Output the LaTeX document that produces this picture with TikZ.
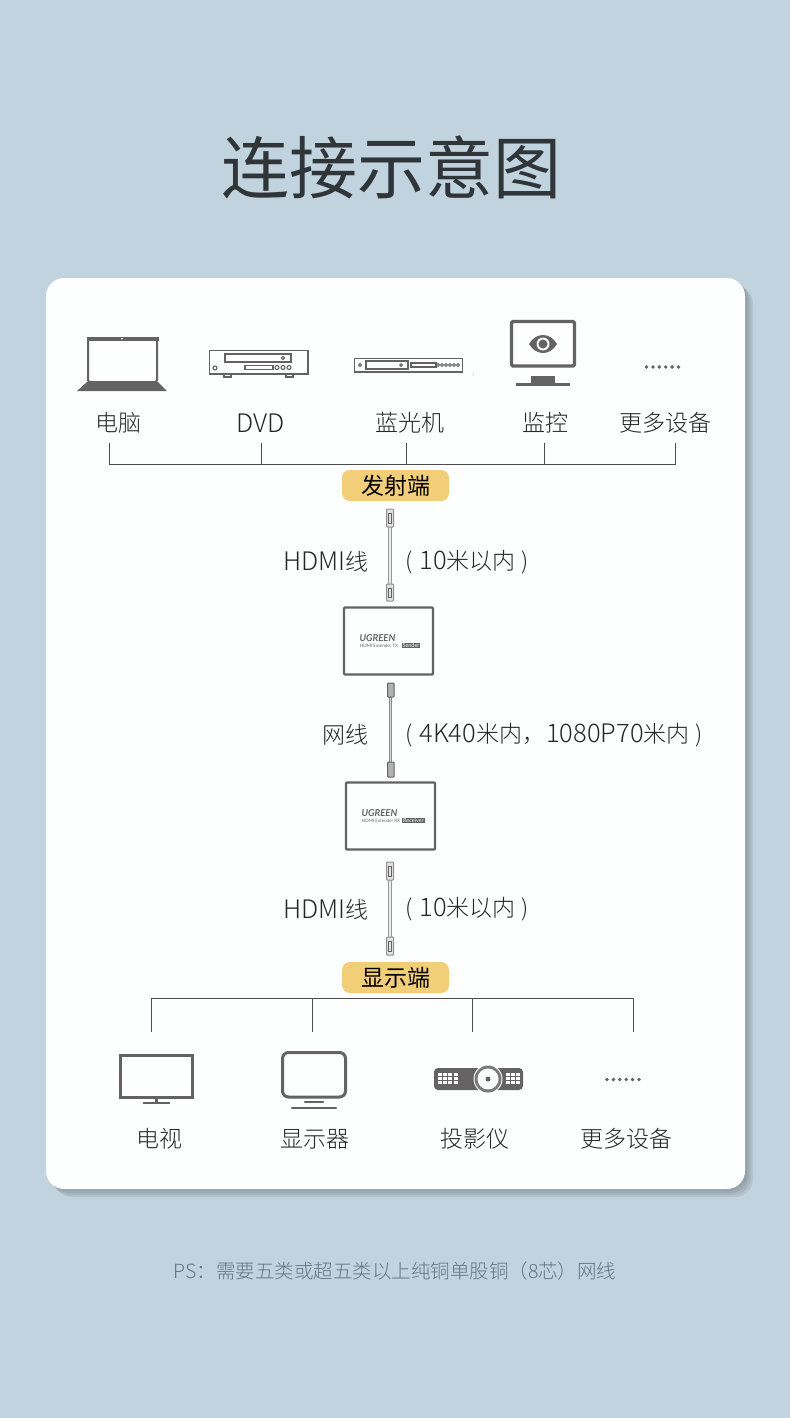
\documentclass[tikz,border=0pt]{standalone}
\usepackage{fontspec}
\setmainfont{Noto Sans CJK SC Light}
\newfontfamily\heavyfont{Noto Sans CJK SC}
\newfontfamily\brandfont{Lato}
\definecolor{bgblue}{HTML}{C1D3DF}
\definecolor{cardwhite}{HTML}{FDFEFE}
\definecolor{icongray}{HTML}{646263}
\definecolor{tagyellow}{HTML}{F2CE78}
\definecolor{titleink}{HTML}{2F3538}
\definecolor{noteink}{HTML}{66747E}
\tikzset{
  lbl/.style={text=black!85,font=\fontsize{23}{23}\selectfont,inner sep=0pt},
  tag/.style={fill=tagyellow,rounded corners=8pt,minimum width=107pt,minimum height=31pt,inner sep=0pt,text=black,font=\heavyfont\fontsize{23}{23}\selectfont},
  wire/.style={draw=black!70,line width=0.8pt},
  icon/.style={draw=icongray,line width=1.6pt},
  boxdev/.style={draw=icongray,line width=2.2pt,fill=cardwhite,rounded corners=1pt},
  plug/.style={draw=icongray!70,line width=1pt,fill=black!12,rounded corners=0.8pt},
}
% latin runs of the labels are set a little wider
\newcommand{\lat}[1]{{\fontsize{25.5}{25.5}\selectfont #1}}
% one plug of a cable, centred on x=390
\newcommand{\cableplug}[2]{\draw[plug] (386.5,#1) rectangle (393.5,#2);
  \draw[icongray,line width=0.7pt] (388.5,#1+4) rectangle (391.5,#2-4);}
\newcommand{\cableline}[2]{\draw[icongray!65,line width=4.4pt] (390,#1)--(390,#2);
  \draw[black!8,line width=1.8pt] (390,#1)--(390,#2);}
\begin{document}
\begin{tikzpicture}[x=1pt,y=-1pt]
\useasboundingbox (0,0) rectangle (790,1418);
\fill[bgblue] (0,0) rectangle (790,1418);
% card with shadow
\foreach \g in {8,6,4,2,0}
  \fill[black!50!bgblue,opacity=0.14,rounded corners=18pt] (46+\g,278+\g) rectangle (745+\g,1189+\g);
\fill[cardwhite,rounded corners=18pt] (46,278) rectangle (745,1189);
\node[text=titleink,font=\heavyfont\fontsize{68}{68}\selectfont,inner sep=0pt] (title) at (391,167) {连接示意图};
% laptop
\draw[icon,line width=2pt,fill=cardwhite,rounded corners=1.5pt] (88,338) rectangle (157,382);
\fill[icongray] (86.5,337) rectangle (158.5,340.5);
\fill[white] (122,338.5) circle (1);
\fill[icongray] (87,382)--(158,382)--(167,391)--(77,391)--cycle;
% dvd player
\draw[icon] (209.5,350.5) rectangle (308,374);
\draw[icon] (225,354) rectangle (291,362);
\draw[icon,line width=1.1pt] (283,358) circle (1.7);
\draw[icon,line width=1.1pt] (215,368) circle (2);
\draw[icon,line width=1.2pt] (245,365.5) rectangle (273,369.5);
\foreach \x in {277,283,289} \draw[icon,line width=1.1pt] (\x+0,367.5) circle (2);
\draw[icon,line width=1.1pt] (224,374) rectangle (231,377);
\draw[icon,line width=1.1pt] (286,374) rectangle (293,377);
% blu-ray player
\draw[icon,line width=1.4pt] (354.5,358.5) rectangle (462.5,372);
\draw[icon,line width=1pt] (360,365) circle (1.4);
\draw[icon,line width=1.1pt] (366,361) rectangle (408,369);
\draw[icon,line width=1pt] (401,365) circle (1.3);
\draw[icon,line width=1.1pt] (411,363) rectangle (436,367);
\foreach \x in {438,442,446,450,454,458} \draw[icon,line width=0.9pt] (\x+0,365) circle (1.4);
\fill[icongray] (473,374) circle (0.5);
% camera monitor
\draw[icon,line width=3.2pt,rounded corners=1.5pt] (511.5,321.5) rectangle (574.5,366);
\fill[icongray] (529,344) .. controls (536,332) and (550,332) .. (557,344) .. controls (550,356) and (536,356) .. (529,344)--cycle;
\fill[cardwhite] (543,344) circle (6.5);
\fill[icongray] (543,344) circle (4.5);
\fill[icongray] (531,376) rectangle (555,384);
\fill[icongray] (516,383) rectangle (570,386);
\foreach \i in {0,...,5} \fill[icongray] (646.5+6.4*\i,367) circle (1.9);
% upper labels
\node[lbl] (pc) at (118,423) {电脑};
\node[lbl] (dvd) at (261,423) {\lat{DVD}};
\node[lbl] (bluray) at (410,423) {蓝光机};
\node[lbl] (camera) at (545,423) {监控};
\node[lbl] (moreup) at (665,423) {更多设备};
% upper bus
\coordinate (busL) at (109,464);
\coordinate (busR) at (675,464);
\draw[wire] (109,443)--(busL)--(busR)--(675,443);
\foreach \x in {261,406,544} \draw[wire] (\x,443)--(\x,464);
\node[tag] (sender) at (395.5,485.5) {发射端};
% first hdmi cable
\cableline{527}{584}
\cableplug{509}{527}
\cableplug{584}{601}
\node[lbl,anchor=east] (hdmia) at (369,562) {\lat{HDMI}线};
\node[lbl,anchor=west] (rangea) at (405,562) {(\hspace{7pt}\lat{10}米以内\hspace{6pt})};
% transmitter
\node[boxdev,minimum width=89pt,minimum height=67pt,inner sep=0pt] (tx) at (388.5,641) {};
\node[inner sep=0pt,text=icongray,font=\brandfont\bfseries\itshape\fontsize{9.5}{9.5}\selectfont] (txbrand) at (377.5,638) {UGREEN};
\node[inner sep=0pt,text=icongray,font=\brandfont\fontsize{4.5}{4.5}\selectfont] (txname) at (379,646) {HDMI Extender TX};
\node[inner sep=0.8pt,fill=icongray,text=white,font=\brandfont\fontsize{5.5}{5.5}\selectfont] (txtag) at (411,645.5) {Sender};
% network cable
\draw[icongray!75,line width=3.6pt] (390.5,697)--(390.5,762);
\draw[black!15,line width=1.4pt] (390.5,697)--(390.5,762);
\draw[plug,draw=icongray,fill=black!30] (387.5,683) rectangle (394,697);
\draw[plug,draw=icongray,fill=black!30] (387.5,762) rectangle (394,777);
\node[lbl,anchor=east] (lan) at (369,735) {网线};
\node[lbl,anchor=west] (rangeb) at (405,735) {(\hspace{7pt}\lat{4K40}米内，\hspace{1pt}\lat{1080P70}米内\hspace{6pt})};
% receiver
\node[boxdev,minimum width=89pt,minimum height=67pt,inner sep=0pt] (rx) at (390.5,816) {};
\node[inner sep=0pt,text=icongray,font=\brandfont\bfseries\itshape\fontsize{9.5}{9.5}\selectfont] (rxbrand) at (379.5,813.5) {UGREEN};
\node[inner sep=0pt,text=icongray,font=\brandfont\fontsize{4.5}{4.5}\selectfont] (rxname) at (381,821) {HDMI Extender RX};
\node[inner sep=0.8pt,fill=icongray,text=white,font=\brandfont\fontsize{5.5}{5.5}\selectfont] (rxtag) at (413.5,820.5) {Receiver};
% second hdmi cable
\cableline{880}{937}
\cableplug{862}{880}
\cableplug{937}{955}
\node[lbl,anchor=east] (hdmib) at (369,910) {\lat{HDMI}线};
\node[lbl,anchor=west] (rangec) at (405,909) {(\hspace{7pt}\lat{10}米以内\hspace{6pt})};
\node[tag] (display) at (395.5,977.5) {显示端};
% lower bus
\coordinate (lowL) at (151,998);
\coordinate (lowR) at (633,998);
\draw[wire] (151,1032)--(lowL)--(lowR)--(633,1032);
\foreach \x in {312,472} \draw[wire] (\x,998)--(\x,1032);
% tv
\draw[icon,line width=3pt] (120.5,1055.5) rectangle (192,1097);
\draw[icon,line width=3pt] (156.5,1098)--(156.5,1103);
\draw[icon,line width=2.5pt] (143,1103)--(170,1103);
% desktop monitor
\draw[icon,line width=3pt,rounded corners=6pt] (282.5,1052.5) rectangle (345.5,1097);
\draw[icon,line width=2.5pt,line cap=round] (305,1102)--(323,1102);
\draw[icon,line width=2.5pt,line cap=round] (292,1108)--(336,1108);
% projector
\fill[icongray,rounded corners=4pt] (434,1068) rectangle (523,1090);
\fill[cardwhite] (488,1079) circle (14.5);
\fill[icongray!85] (488,1079) circle (13.5);
\fill[cardwhite] (488,1079) circle (10.5);
\fill[icongray] (488,1079) circle (2.5);
\foreach \i in {0,...,3} \foreach \j in {0,1,2}
  \fill[cardwhite] (438+5.2*\i,1073+3.9*\j) rectangle +(4,3);
\foreach \i in {0,1,2} \foreach \j in {0,1,2}
  \fill[cardwhite] (506+5.2*\i,1073+3.9*\j) rectangle +(4,3);
\foreach \i in {0,...,5} \fill[icongray] (607+6.4*\i,1079.5) circle (1.9);
% lower labels
\node[lbl] (tv) at (159,1139) {电视};
\node[lbl] (screen) at (314.5,1139) {显示器};
\node[lbl] (beamer) at (474.5,1139) {投影仪};
\node[lbl] (moredown) at (626.5,1139) {更多设备};
\node[text=noteink,inner sep=0pt,font=\fontsize{19.5}{20}\selectfont] (note) at (395,1271) {PS：需要五类或超五类以上纯铜单股铜（8芯）网线};
\end{tikzpicture}
\end{document}
